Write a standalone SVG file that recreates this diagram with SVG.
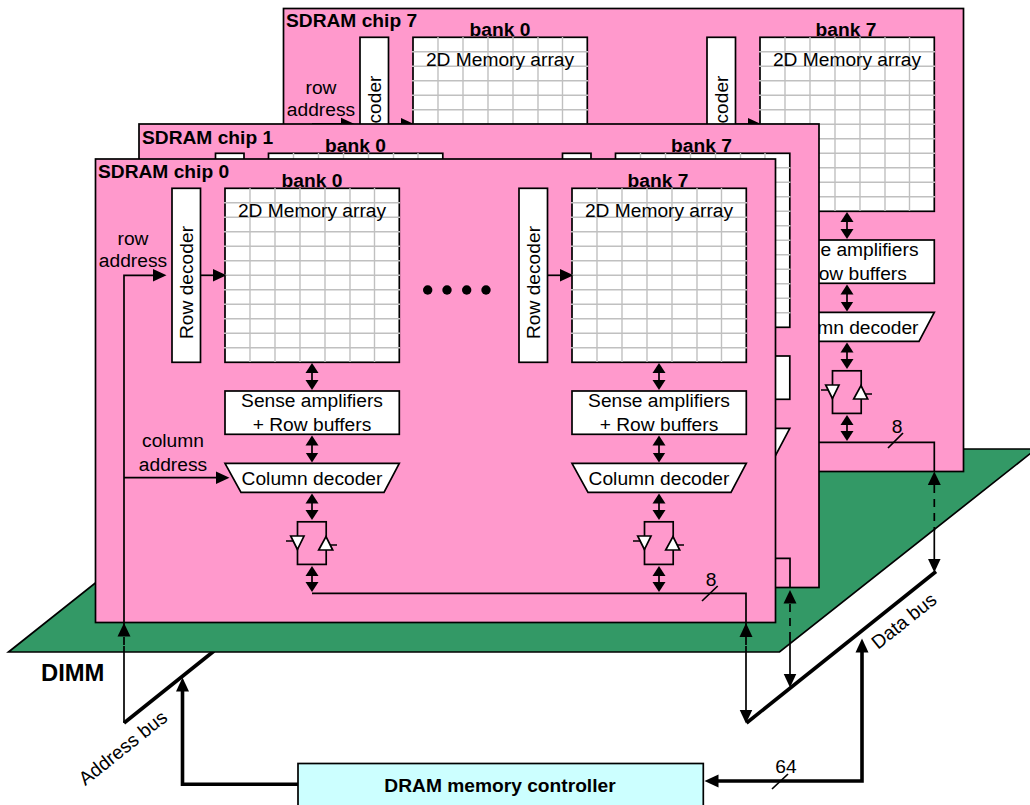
<svg xmlns="http://www.w3.org/2000/svg" width="1030" height="805" viewBox="0 0 1030 805">
<style>
text{font-family:"Liberation Sans",Arial,sans-serif;font-size:19.2px;fill:#000}
.b{font-weight:bold}
.c{text-anchor:middle}
.e{text-anchor:end}
.chip{fill:#ff99cc;stroke:#000;stroke-width:1.7}
.box{fill:#fff;stroke:#000;stroke-width:1.7}
.grid{fill:none;stroke:#c0c0c0;stroke-width:1.4}
.ln{fill:none;stroke:#000;stroke-width:1.7}
.dbl{marker-start:url(#s);marker-end:url(#s)}
.end{marker-end:url(#m)}
.both{marker-start:url(#m);marker-end:url(#m)}
.thick{fill:none;stroke:#000;stroke-width:3.6;stroke-linejoin:miter}
.dash{stroke-dasharray:8 6}
</style>
<defs>
<marker id="s" markerUnits="userSpaceOnUse" markerWidth="11" markerHeight="14" refX="0.5" refY="7" orient="auto-start-reverse"><path d="M0 .5L10 7L0 13.5Z"/></marker>
<marker id="m" markerUnits="userSpaceOnUse" markerWidth="15" markerHeight="14" refX="0.5" refY="7" orient="auto-start-reverse"><path d="M0 .5L14 7L0 13.5Z"/></marker>
<g id="bank">
<rect class="box" x="172" y="188.3" width="28.5" height="174"/>
<rect class="box" x="225" y="188.3" width="174.3" height="174"/>
<path class="grid" d="M250 188V362M275 188V362M300 188V362M325 188V362M350 188V362M374.5 188V362M224 202.8H400M224 217.3H400M224 231.8H400M224 246.3H400M224 260.8H400M224 275.3H400M224 289.8H400M224 304.3H400M224 318.8H400M224 333.3H400M224 347.8H400"/>
<rect class="box" x="225" y="391" width="174.3" height="43.3"/>
<path class="box" d="M225 463.3H399.3L384 492.3H241Z"/>
</g>
<g id="buffer">
<rect x="297.5" y="521.8" width="28.7" height="42.6" fill="none" stroke="#000" stroke-width="1.7"/>
<path class="ln" d="M286 541H294M329 545H337"/>
<path class="box" d="M290.7 536H304L297.4 549.5Z"/>
<path class="box" d="M318.7 550H332.7L326 536.7Z"/>
</g>
<g id="bank-links">
<path class="ln end" d="M200 275.3H213"/>
<path class="ln dbl" d="M312 372.5V380.5"/>
<path class="ln dbl" d="M312 445V453"/>
<path class="ln dbl" d="M312 503V510.5"/>
<path class="ln dbl" d="M312 575.5V582.5"/>
</g>
</defs>
<rect width="1030" height="805" fill="#fff"/>

<g id="address-bus"><path class="thick" d="M124 723L214 651"/></g>
<g id="data-bus"><path class="thick" d="M746.5 723L936 571.5"/></g>

<g id="dimm">
<path d="M8.5 652H779.5L1036 449H264Z" fill="#339966" stroke="#000" stroke-width="1.7"/>
<text class="b" x="41" y="681" style="font-size:23.8px">DIMM</text>
</g>

<g id="sdram-chip-7">
<rect class="chip" x="283.5" y="8.5" width="680" height="463"/>
<use href="#bank" transform="translate(188,-151)"/>
<use href="#bank" transform="translate(535,-151)"/>
<use href="#buffer" transform="translate(535,-151)"/>
<text class="b" x="286" y="27">SDRAM chip 7</text>
<text class="b c" x="500" y="36">bank 0</text>
<text class="b c" x="846" y="36">bank 7</text>
<text class="c" x="500" y="66">2D Memory array</text>
<text class="c" x="847" y="66">2D Memory array</text>
<text class="c" x="321" y="94">row</text>
<text class="c" x="321" y="116">address</text>
<text class="e" transform="translate(380.5,75.5) rotate(-90)">coder</text>
<text class="e" transform="translate(727.5,75.5) rotate(-90)">coder</text>
<text class="e" x="918.5" y="256">e amplifiers</text>
<text class="e" x="906.8" y="280">ow buffers</text>
<text class="e" x="918.5" y="334">mn decoder</text>
</g>
<g id="connectors-chip-7">
<use href="#bank-links" transform="translate(188,-151)"/>
<use href="#bank-links" transform="translate(535,-151)"/>
<path class="ln end" d="M312 124H341"/>
<path class="ln" d="M819 442.3H934.3V472"/>
<path class="ln" d="M888 448L903 433"/>
</g>
<text x="897" y="433" class="c">8</text>

<g id="sdram-chip-1">
<rect class="chip" x="139" y="124" width="680" height="463.5"/>
<use href="#bank" transform="translate(43.5,-35)"/>
<use href="#bank" transform="translate(390.5,-35)"/>
<text class="b" x="142" y="144">SDRAM chip 1</text>
<text class="b c" x="355.5" y="152">bank 0</text>
<text class="b c" x="701.5" y="152">bank 7</text>
</g>
<g id="connectors-chip-1">
<path class="ln" d="M770 558.3H790V588"/>
</g>

<g id="sdram-chip-0">
<rect class="chip" x="95.5" y="159" width="680" height="463.5"/>
<use href="#bank"/>
<use href="#bank" transform="translate(347,0)"/>
<use href="#buffer"/>
<use href="#buffer" transform="translate(347,0)"/>
<text class="b" x="98" y="178">SDRAM chip 0</text>
<text class="b c" x="312" y="187">bank 0</text>
<text class="b c" x="658" y="187">bank 7</text>
<text class="c" x="312" y="217">2D Memory array</text>
<text class="c" x="659" y="217">2D Memory array</text>
<text class="c" transform="translate(192.5,282.5) rotate(-90)">Row decoder</text>
<text class="c" transform="translate(539.5,282.5) rotate(-90)">Row decoder</text>
<text class="c" x="312" y="407">Sense amplifiers</text>
<text class="c" x="659" y="407">Sense amplifiers</text>
<text class="c" x="312" y="431">+ Row buffers</text>
<text class="c" x="659" y="431">+ Row buffers</text>
<text class="c" x="312" y="485">Column decoder</text>
<text class="c" x="659" y="485">Column decoder</text>
<text class="c" x="133" y="245">row</text>
<text class="c" x="133" y="267">address</text>
<text class="c" x="173" y="447">column</text>
<text class="c" x="173" y="471">address</text>
<circle cx="427.7" cy="290" r="4.7"/><circle cx="447" cy="290" r="4.7"/><circle cx="466.7" cy="290" r="4.7"/><circle cx="486" cy="290" r="4.7"/>
</g>
<g id="connectors-chip-0">
<use href="#bank-links"/>
<use href="#bank-links" transform="translate(347,0)"/>
<path class="ln end" d="M124 630V275.3H153"/>
<path class="ln end" d="M124 477.7H216"/>
<path class="ln" d="M312 593.3H746V625"/>
<path class="ln" d="M702 601L717.7 586"/>
</g>
<text x="711" y="586" class="c">8</text>

<g id="bus-connectors">
<path d="M117.5 636.5L124 623L130.5 636.5Z"/>
<path class="ln dash" d="M124 637V647"/><path class="ln" d="M124 646V723"/>
<path d="M739.5 637L746 623L752.5 637Z"/>
<path class="ln dash" d="M746 637V647"/><path class="ln end" d="M746 646V710"/>
<path d="M783.5 603.5L790 590L796.5 603.5Z"/>
<path class="ln dash" d="M790 604V642"/><path class="ln end" d="M790 640V674"/>
<path d="M927.8 485L934.3 471.5L940.8 485Z"/>
<path class="ln dash" d="M934.3 485V531"/><path class="ln end" d="M934.3 529V559"/>
<path class="thick end" d="M298 784.3H182.5V691"/>
<path class="thick both" d="M862 652V781H718"/>
<path class="ln" d="M772 789L788 774"/>
</g>
<text class="c" x="786" y="773">64</text>
<text class="c" transform="translate(127,753) rotate(-38.66)">Address bus</text>
<text class="c" transform="translate(908,626) rotate(-38.66)">Data bus</text>

<g id="dram-memory-controller">
<rect x="298" y="763.5" width="405.3" height="50" fill="#ccffff" stroke="#000" stroke-width="1.7"/>
<text class="b c" x="500" y="792">DRAM memory controller</text>
</g>
</svg>
